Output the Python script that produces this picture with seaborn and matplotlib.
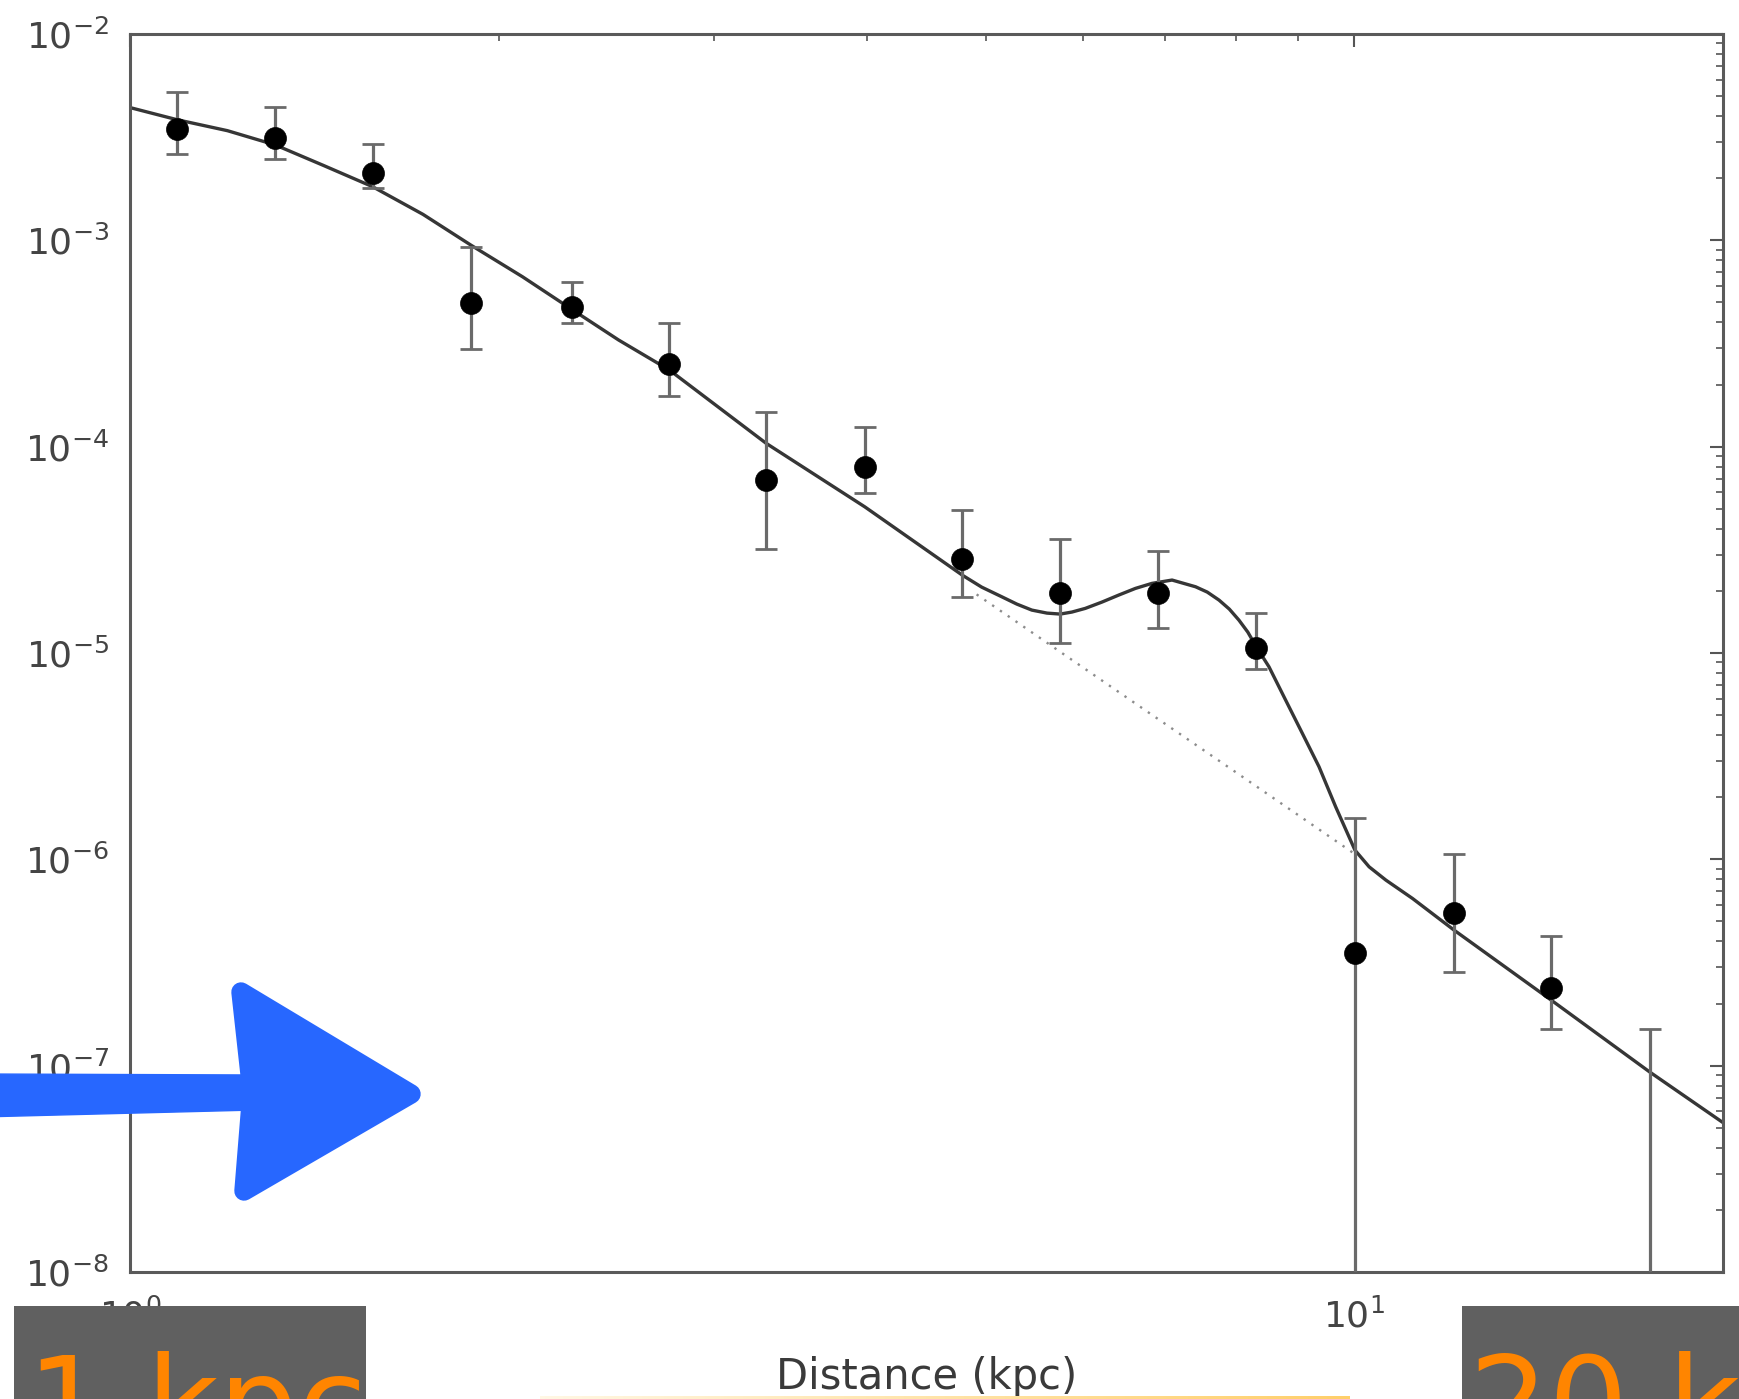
import numpy as np
import pandas as pd
import matplotlib
matplotlib.use("Agg")
import matplotlib.pyplot as plt
import matplotlib.ticker as mticker
from matplotlib.patches import Rectangle, Polygon
from matplotlib.colors import LinearSegmentedColormap
import seaborn as sns

# ---------------- data ----------------
dist_kpc = [1.093, 1.314, 1.578, 1.898, 2.295, 2.756, 3.308, 3.982,
            4.783, 5.75, 6.913, 8.314, 10.01, 12.06, 14.48, 17.42]
density = [3.45e-3, 3.12e-3, 2.13e-3, 4.99e-4, 4.73e-4, 2.51e-4, 6.89e-5, 8.0e-5,
           2.84e-5, 1.96e-5, 1.945e-5, 1.06e-5, 3.50e-7, 5.51e-7, 2.39e-7, 1e-9]
dens_low = [2.61e-3, 2.48e-3, 1.79e-3, 2.97e-4, 3.96e-4, 1.76e-4, 3.18e-5, 5.94e-5,
            1.862e-5, 1.122e-5, 1.324e-5, 8.32e-6, 1e-9, 2.83e-7, 1.51e-7, 1e-9]
dens_high = [5.21e-3, 4.44e-3, 2.92e-3, 9.25e-4, 6.25e-4, 3.96e-4, 1.476e-4, 1.247e-4,
             4.93e-5, 3.56e-5, 3.13e-5, 1.566e-5, 1.58e-6, 1.06e-6, 4.25e-7, 1.50e-7]

model_x = [1.0, 1.093, 1.201, 1.314, 1.438, 1.578, 1.735, 1.898, 2.092, 2.295,
           2.506, 2.758, 3.308, 3.982, 4.783, 4.961, 5.152, 5.300, 5.452, 5.609,
           5.750, 5.878, 6.028, 6.220, 6.420, 6.624, 6.834, 7.097, 7.418, 7.583,
           7.752, 7.904, 8.048, 8.183, 8.315, 8.516, 8.787, 9.067, 9.356, 9.654,
           10.01, 10.28, 10.61, 11.155, 12.06, 14.48, 17.42, 20.09]
model_y = [4.40e-3, 3.84e-3, 3.40e-3, 2.90e-3, 2.31e-3, 1.82e-3, 1.336e-3, 9.49e-4,
           6.66e-4, 4.63e-4, 3.29e-4, 2.35e-4, 1.038e-4, 5.11e-5, 2.385e-5, 2.086e-5,
           1.873e-5, 1.726e-5, 1.614e-5, 1.561e-5, 1.544e-5, 1.579e-5, 1.645e-5,
           1.765e-5, 1.909e-5, 2.056e-5, 2.175e-5, 2.257e-5, 2.094e-5, 1.973e-5,
           1.805e-5, 1.632e-5, 1.443e-5, 1.263e-5, 1.072e-5, 8.57e-6, 5.91e-6,
           4.08e-6, 2.81e-6, 1.796e-6, 1.108e-6, 9.20e-7, 7.93e-7, 6.46e-7, 4.54e-7,
           2.077e-7, 9.33e-8, 5.20e-8]

base_x = [4.914, 6.622, 7.996, 10.01]
base_y = [1.923e-5, 5.70e-6, 2.65e-6, 1.06e-6]

x_label = "Distance (kpc)"
left_tag = "1 kpc"
right_tag = "20 kpc"

# ---------------- style ----------------
sns.set_theme(style="white")
plt.rcParams['font.family'] = ['DejaVu Sans']
plt.rcParams['mathtext.fontset'] = 'dejavusans'
plt.rcParams['axes.unicode_minus'] = False

W, H = 1740, 1399
fig = plt.figure(figsize=(W / 100, H / 100), dpi=100)
fig.patch.set_facecolor('white')

L, R, T, B = 130, 1723, 34, 1272
ax = fig.add_axes([L / W, 1 - B / H, (R - L) / W, (B - T) / H])
ax.set_facecolor('white')

pts = pd.DataFrame(dict(x=dist_kpc, y=density))
model = pd.DataFrame(dict(x=model_x, y=model_y))
base = pd.DataFrame(dict(x=base_x, y=base_y))

ax.set_xscale('log')
ax.set_yscale('log')

sns.lineplot(data=base, x='x', y='y', ax=ax, color='#8c8c8c', lw=1.7,
             linestyle=(0, (1, 3)), sort=False, estimator=None)
sns.lineplot(data=model, x='x', y='y', ax=ax, color='#363636', lw=2.4,
             sort=False, estimator=None)
yerr = [np.array(density) - np.array(dens_low), np.array(dens_high) - np.array(density)]
ax.errorbar(dist_kpc, density, yerr=yerr, fmt='none', ecolor='#6a6a6a',
            elinewidth=2.3, capsize=8, capthick=2.0, zorder=3)
sns.scatterplot(data=pts, x='x', y='y', ax=ax, color='black', s=250,
                edgecolor='black', linewidth=0.5, zorder=5)

ax.set_xlim(1, 20)
ax.set_ylim(1e-8, 1e-2)

ax.xaxis.set_major_locator(mticker.LogLocator(base=10, numticks=10))
ax.yaxis.set_major_locator(mticker.LogLocator(base=10, numticks=20))
ax.xaxis.set_minor_locator(mticker.LogLocator(base=10, subs=np.arange(2, 10), numticks=20))
ax.yaxis.set_minor_locator(mticker.LogLocator(base=10, subs=np.arange(2, 10), numticks=40))
ax.xaxis.set_minor_formatter(mticker.NullFormatter())
ax.yaxis.set_minor_formatter(mticker.NullFormatter())

ax.tick_params(which='both', direction='in', top=True, right=True,
               colors='#555555', labelcolor='#444444')
ax.tick_params(which='major', length=9.5, width=1.5, labelsize=26)
ax.tick_params(which='minor', length=5, width=1.2)
ax.tick_params(axis='x', which='major', pad=19)
ax.tick_params(axis='y', which='major', pad=15)

for s in ax.spines.values():
    s.set_color('#5a5a5a')
    s.set_linewidth(2.2)

ax.set_xlabel(x_label, fontsize=30, color='#3a3a3a')
ax.set_ylabel('')
ax.xaxis.set_label_coords(0.5, -0.068)

# ---------------- overlay annotations (pixel space) ----------------
ov = fig.add_axes([0, 0, 1, 1], zorder=10)
ov.set_xlim(0, W)
ov.set_ylim(H, 0)
ov.axis('off')
ov.patch.set_alpha(0)

blue = '#2767FF'
shaft = Polygon([(-20, 1074), (255, 1075), (255, 1110), (-20, 1117)], closed=True,
                fc=blue, ec=blue, lw=1)
head = Polygon([(241, 992), (411, 1094), (244, 1191), (252, 1092)], closed=True,
               fc=blue, ec=blue, lw=14, joinstyle='round')
ov.add_patch(shaft)
ov.add_patch(head)

ov.add_patch(Rectangle((14, 1306), 352, 120, fc='#606060', ec='none'))
ov.add_patch(Rectangle((1462, 1306), 320, 120, fc='#606060', ec='none'))
ov.text(27, 1446, left_tag, fontsize=90, color='#FF8500', va='baseline', ha='left')
ov.text(1469, 1446, right_tag, fontsize=90, color='#FF8500', va='baseline', ha='left')

grad = np.linspace(0, 1, 256)[None, :]
cmap = LinearSegmentedColormap.from_list('yb', ['#FFF7E4', '#FFCF6A'])
ov.imshow(grad, extent=[540, 1350, 1399, 1396], aspect='auto', cmap=cmap, zorder=11)
ov.set_xlim(0, W)
ov.set_ylim(H, 0)

fig.savefig('out.png', dpi=100, facecolor='white')
